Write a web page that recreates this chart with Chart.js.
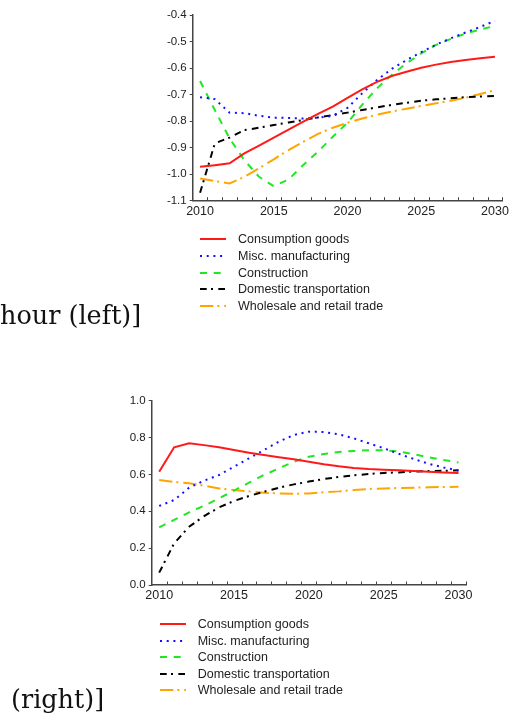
<!DOCTYPE html>
<html>
<head>
<meta charset="utf-8">
<script src="https://cdn.jsdelivr.net/npm/chart.js@4/dist/chart.umd.min.js"></script>
<style>
html,body{margin:0;padding:0;background:#fff;width:512px;height:719px;overflow:hidden;}
canvas{position:absolute;left:0;}
#cA{top:0;}
#cB{top:380px;}
.cap{position:absolute;font-family:"DejaVu Serif",serif;font-size:25.5px;line-height:25px;color:#111;white-space:nowrap;}
</style>
</head>
<body>
<canvas id="cA" width="512" height="330" style="width:512px;height:330px"></canvas>
<canvas id="cB" width="512" height="339" style="width:512px;height:339px"></canvas>
<div class="cap" style="left:0px;top:303px;">hour (left)]</div>
<div class="cap" style="left:11px;top:687px;">(right)]</div>
<script>
// ---- data ----
const years = [2010,2011,2012,2013,2014,2015,2016,2017,2018,2019,2020,2021,2022,2023,2024,2025,2026,2027,2028,2029,2030];
const xTickLabels = [2010,2015,2020,2025,2030];
const xTickMarks = [2010.5,2011.5,2012.5,2013.5,2014.5,2015.5,2016.5,2017.5,2018.5,2019.5,2020.5,2021.5,2022.5,2023.5,2024.5,2025.5,2026.5,2027.5,2028.5,2029.5,2030.5];
const seriesNames = ["Consumption goods","Misc. manufacturing","Construction","Domestic transportation","Wholesale and retail trade"];

// left panel
const leftConsumption  = [-0.972,-0.966,-0.959,-0.922,-0.892,-0.862,-0.832,-0.802,-0.773,-0.745,-0.712,-0.680,-0.652,-0.630,-0.614,-0.599,-0.587,-0.577,-0.570,-0.563,-0.557];
const leftMisc         = [-0.710,-0.717,-0.768,-0.770,-0.780,-0.787,-0.788,-0.790,-0.787,-0.780,-0.750,-0.695,-0.645,-0.603,-0.570,-0.540,-0.512,-0.488,-0.466,-0.445,-0.422];
const leftConstruction = [-0.649,-0.758,-0.865,-0.947,-1.010,-1.045,-1.020,-0.965,-0.915,-0.859,-0.806,-0.738,-0.676,-0.626,-0.582,-0.545,-0.513,-0.490,-0.470,-0.455,-0.441];
const leftDomestic     = [-1.070,-0.884,-0.862,-0.834,-0.825,-0.815,-0.805,-0.796,-0.786,-0.777,-0.768,-0.758,-0.748,-0.739,-0.731,-0.723,-0.718,-0.714,-0.710,-0.707,-0.705];
const leftWholesale    = [-1.016,-1.026,-1.035,-1.010,-0.978,-0.944,-0.909,-0.878,-0.848,-0.825,-0.806,-0.790,-0.776,-0.764,-0.753,-0.743,-0.733,-0.723,-0.712,-0.698,-0.683];

// right panel
const rightConsumption  = [0.615,0.747,0.769,0.759,0.747,0.732,0.718,0.705,0.693,0.682,0.669,0.655,0.644,0.635,0.629,0.626,0.622,0.618,0.615,0.611,0.608];
const rightMisc         = [0.429,0.461,0.528,0.566,0.597,0.642,0.687,0.732,0.778,0.814,0.832,0.830,0.817,0.796,0.769,0.742,0.712,0.684,0.658,0.638,0.620];
const rightConstruction = [0.313,0.353,0.394,0.430,0.470,0.512,0.555,0.597,0.633,0.669,0.696,0.711,0.722,0.727,0.731,0.731,0.724,0.710,0.693,0.678,0.665];
const rightDomestic     = [0.067,0.226,0.316,0.374,0.421,0.456,0.483,0.506,0.528,0.546,0.561,0.575,0.586,0.595,0.602,0.608,0.611,0.615,0.618,0.620,0.622];
const rightWholesale    = [0.570,0.559,0.552,0.539,0.524,0.515,0.508,0.501,0.497,0.495,0.497,0.503,0.508,0.515,0.521,0.524,0.526,0.528,0.530,0.532,0.533];

// ---- styles ----
const styles = [
  {color:'#ff1a1a', dash:[]},
  {color:'#1010ff', dash:[2,4.7]},
  {color:'#22e622', dash:[7,6.7]},
  {color:'#000000', dash:[6.7,4.3,2,5.3]},
  {color:'#ffa500', dash:[13.3,4,2,5]}
];
const AXIS = '#444';
const FONT = '"Liberation Sans", Arial, sans-serif';

function makeDatasets(arrs){
  return arrs.map((a,i)=>({
    label: seriesNames[i],
    data: years.map((y,k)=>({x:y, y:a[k]})),
    borderColor: styles[i].color,
    borderDash: styles[i].dash,
    borderWidth: 2,
    pointRadius: 0,
    fill: false,
    tension: 0
  }));
}

const tickMarkPlugin = {
  id:'tickMarkPlugin',
  afterDraw(chart){
    const {ctx, chartArea, scales} = chart;
    const x = scales.x;
    ctx.save();
    ctx.strokeStyle = AXIS; ctx.lineWidth = 1;
    xTickMarks.forEach(v=>{
      const px = Math.round(x.getPixelForValue(v)) + 0.5;
      ctx.beginPath(); ctx.moveTo(px, chartArea.bottom); ctx.lineTo(px, chartArea.bottom - 3.5); ctx.stroke();
    });
    ctx.restore();
  }
};

const legendPlugin = {
  id:'lineLegend',
  afterDraw(chart, args, opts){
    const {ctx, chartArea} = chart;
    const x0 = chartArea.left + opts.dx, y0 = chartArea.bottom + opts.dy;
    chart.data.datasets.forEach((ds,i)=>{
      const y = Math.round(y0 + i*opts.row);
      ctx.save();
      ctx.strokeStyle = ds.borderColor; ctx.lineWidth = 2; ctx.lineCap='butt';
      ctx.setLineDash(ds.borderDash||[]);
      ctx.beginPath(); ctx.moveTo(x0, y); ctx.lineTo(x0+opts.len, y); ctx.stroke();
      ctx.setLineDash([]);
      ctx.fillStyle = '#222';
      ctx.font = '12.5px ' + FONT;
      ctx.textBaseline = 'middle';
      ctx.fillText(ds.label, x0 + opts.textDx, y + 0.5);
      ctx.restore();
    });
  }
};

function makeChart(id, arrs, ymin, ymax, ystep, padding, legendOpts){
  return new Chart(document.getElementById(id), {
    type:'line',
    data:{ datasets: makeDatasets(arrs) },
    plugins:[tickMarkPlugin, legendPlugin],
    options:{
      responsive:false,
      animation:false,
      devicePixelRatio:1,
      layout:{ padding: padding },
      plugins:{ legend:{display:false}, tooltip:{enabled:false}, lineLegend: legendOpts },
      scales:{
        x:{
          type:'linear', min:2009.5, max:2030.5,
          afterBuildTicks(s){ s.ticks = xTickLabels.map(v=>({value:v})); },
          afterFit(s){ s.height = 20; },
          grid:{display:false, drawTicks:false},
          border:{display:true, color:AXIS, width:1.5},
          ticks:{ color:'#222', font:{family:FONT, size:12.5}, padding:3, maxRotation:0, autoSkip:false,
                  callback:(v)=>String(v) }
        },
        y:{
          min:ymin, max:ymax,
          afterFit(s){ s.width = 40; },
          grid:{drawOnChartArea:false, drawTicks:true, tickLength:3, color:AXIS, lineWidth:1},
          border:{display:true, color:AXIS, width:1.5},
          ticks:{ stepSize:ystep, color:'#222', font:{family:FONT, size:11.5}, padding:3,
                  callback:(v)=>Number(v).toFixed(1) }
        }
      }
    }
  });
}

makeChart('cA', [leftConsumption,leftMisc,leftConstruction,leftDomestic,leftWholesale],
  -1.1, -0.4, 0.1,
  {left:152.7, right:5.3, top:15, bottom:109.3},
  {dx:7.3, dy:38.6, row:16.7, len:26, textDx:38});

makeChart('cB', [rightConsumption,rightMisc,rightConstruction,rightDomestic,rightWholesale],
  0, 1.0, 0.2,
  {left:111.7, right:46, top:20.7, bottom:114},
  {dx:8.3, dy:39.3, row:16.4, len:26, textDx:37.7});
</script>
</body>
</html>
